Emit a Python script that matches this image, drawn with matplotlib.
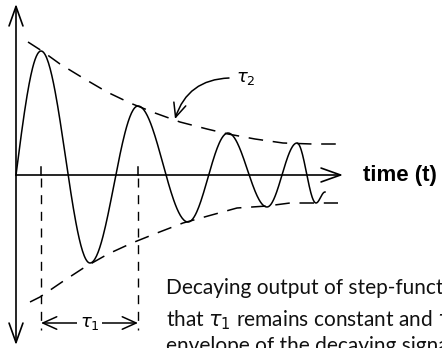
import numpy as np
import matplotlib.pyplot as plt
from matplotlib.patches import ArrowStyle

plt.rcParams['lines.scale_dashes'] = False
plt.rcParams['mathtext.fontset'] = 'dejavusans'

# extrema of the ringing response (pixel units, y grows downward)
ext_x = [16, 41, 90, 138, 188, 228, 267, 297, 316, 325]
ext_y = [175, 51, 263, 106, 222, 133, 207, 143, 203, 192]

# envelope traced along the peaks and troughs
upper_x = [28, 42, 60, 83, 107, 130, 155, 180, 207, 228, 255, 283, 312, 338]
upper_y = [42, 51, 64, 78, 92, 103, 113, 122, 129, 134, 139, 143, 144, 144]
lower_x = [30, 40, 62, 85, 108, 132, 157, 183, 208, 237, 267, 290, 338]
lower_y = [302, 297, 282, 267, 254, 243, 233, 223, 216, 208, 206, 203, 203]

axis_y = 175
axis_x = 16
tau1_marks = [41, 138]

caption = [
    "Decaying output of step-function response showing",
    r"that $\tau_1$ remains constant and $\tau_2$ describes the",
    "envelope of the decaying signal.",
]
caption_y = [288, 320, 346]

fig = plt.figure(figsize=(4.42, 3.48), dpi=100)
ax = fig.add_axes([0, 0, 1, 1])
ax.set_xlim(0, 442)
ax.set_ylim(348, 0)
ax.axis('off')

# build the curve: quarter sine to the first peak, then half cosines
xs, ys = [], []
for i in range(len(ext_x) - 1):
    t = np.linspace(0, 1, 60)
    x0, x1 = ext_x[i], ext_x[i + 1]
    y0, y1 = ext_y[i], ext_y[i + 1]
    if i == 0:
        y = y0 + (y1 - y0) * np.sin(np.pi / 2 * t)
    else:
        y = (y0 + y1) / 2 + (y0 - y1) / 2 * np.cos(np.pi * t)
    xs.append(x0 + (x1 - x0) * t)
    ys.append(y)
ax.plot(np.concatenate(xs), np.concatenate(ys), color='black', lw=1.1)

env_dash = (0, (10.5, 7))
ax.plot(upper_x, upper_y, color='black', lw=1.1, linestyle=env_dash)
ax.plot(lower_x, lower_y, color='black', lw=1.1, linestyle=env_dash)

# axes with open arrow heads
head = ArrowStyle('<->', head_length=14, head_width=5)
ax.annotate('', xy=(axis_x, 4), xytext=(axis_x, 345),
            arrowprops=dict(arrowstyle=head, lw=1.2, color='black',
                            shrinkA=0, shrinkB=0, mutation_scale=1))
ax.annotate('', xy=(343, axis_y), xytext=(axis_x, axis_y),
            arrowprops=dict(arrowstyle=ArrowStyle('->', head_length=14, head_width=5),
                            lw=1.2, color='black', shrinkA=0, shrinkB=0,
                            mutation_scale=1))
for xm in tau1_marks:
    ax.plot([xm, xm], [axis_y - 8, axis_y], color='black', lw=1.1)
    ax.plot([xm, xm], [axis_y + 3, 330], color='black', lw=1.0,
            linestyle=(0, (6.5, 5.5)))

ax.text(363, axis_y, "time (t)", fontsize=16, fontweight='bold',
        family='Liberation Sans', ha='left', va='center')

# tau1 span arrow
small_head = ArrowStyle('<->', head_length=10, head_width=4.5)
ax.annotate('', xy=(tau1_marks[1], 323), xytext=(tau1_marks[0], 323),
            arrowprops=dict(arrowstyle=small_head, lw=1.1, color='black',
                            shrinkA=0, shrinkB=0, mutation_scale=1))
ax.text(sum(tau1_marks) / 2, 323, r"$\tau_1$", fontsize=13, ha='center',
        va='center', bbox=dict(fc='white', ec='none', pad=2))

# tau2 label with curved pointer
ax.annotate('', xy=(175, 119), xytext=(229, 78),
            arrowprops=dict(arrowstyle=ArrowStyle('->', head_length=10, head_width=4.5),
                            lw=1.1, color='black', shrinkA=0, shrinkB=0,
                            mutation_scale=1, connectionstyle='arc3,rad=0.35'))
ax.text(236, 78, r"$\tau_2$", fontsize=13, ha='left', va='center')

for line, yy in zip(caption, caption_y):
    ax.text(166, yy, line, fontsize=15, family='Lato', color='#111111',
            ha='left', va='center')

fig.savefig('out.png', dpi=100)
